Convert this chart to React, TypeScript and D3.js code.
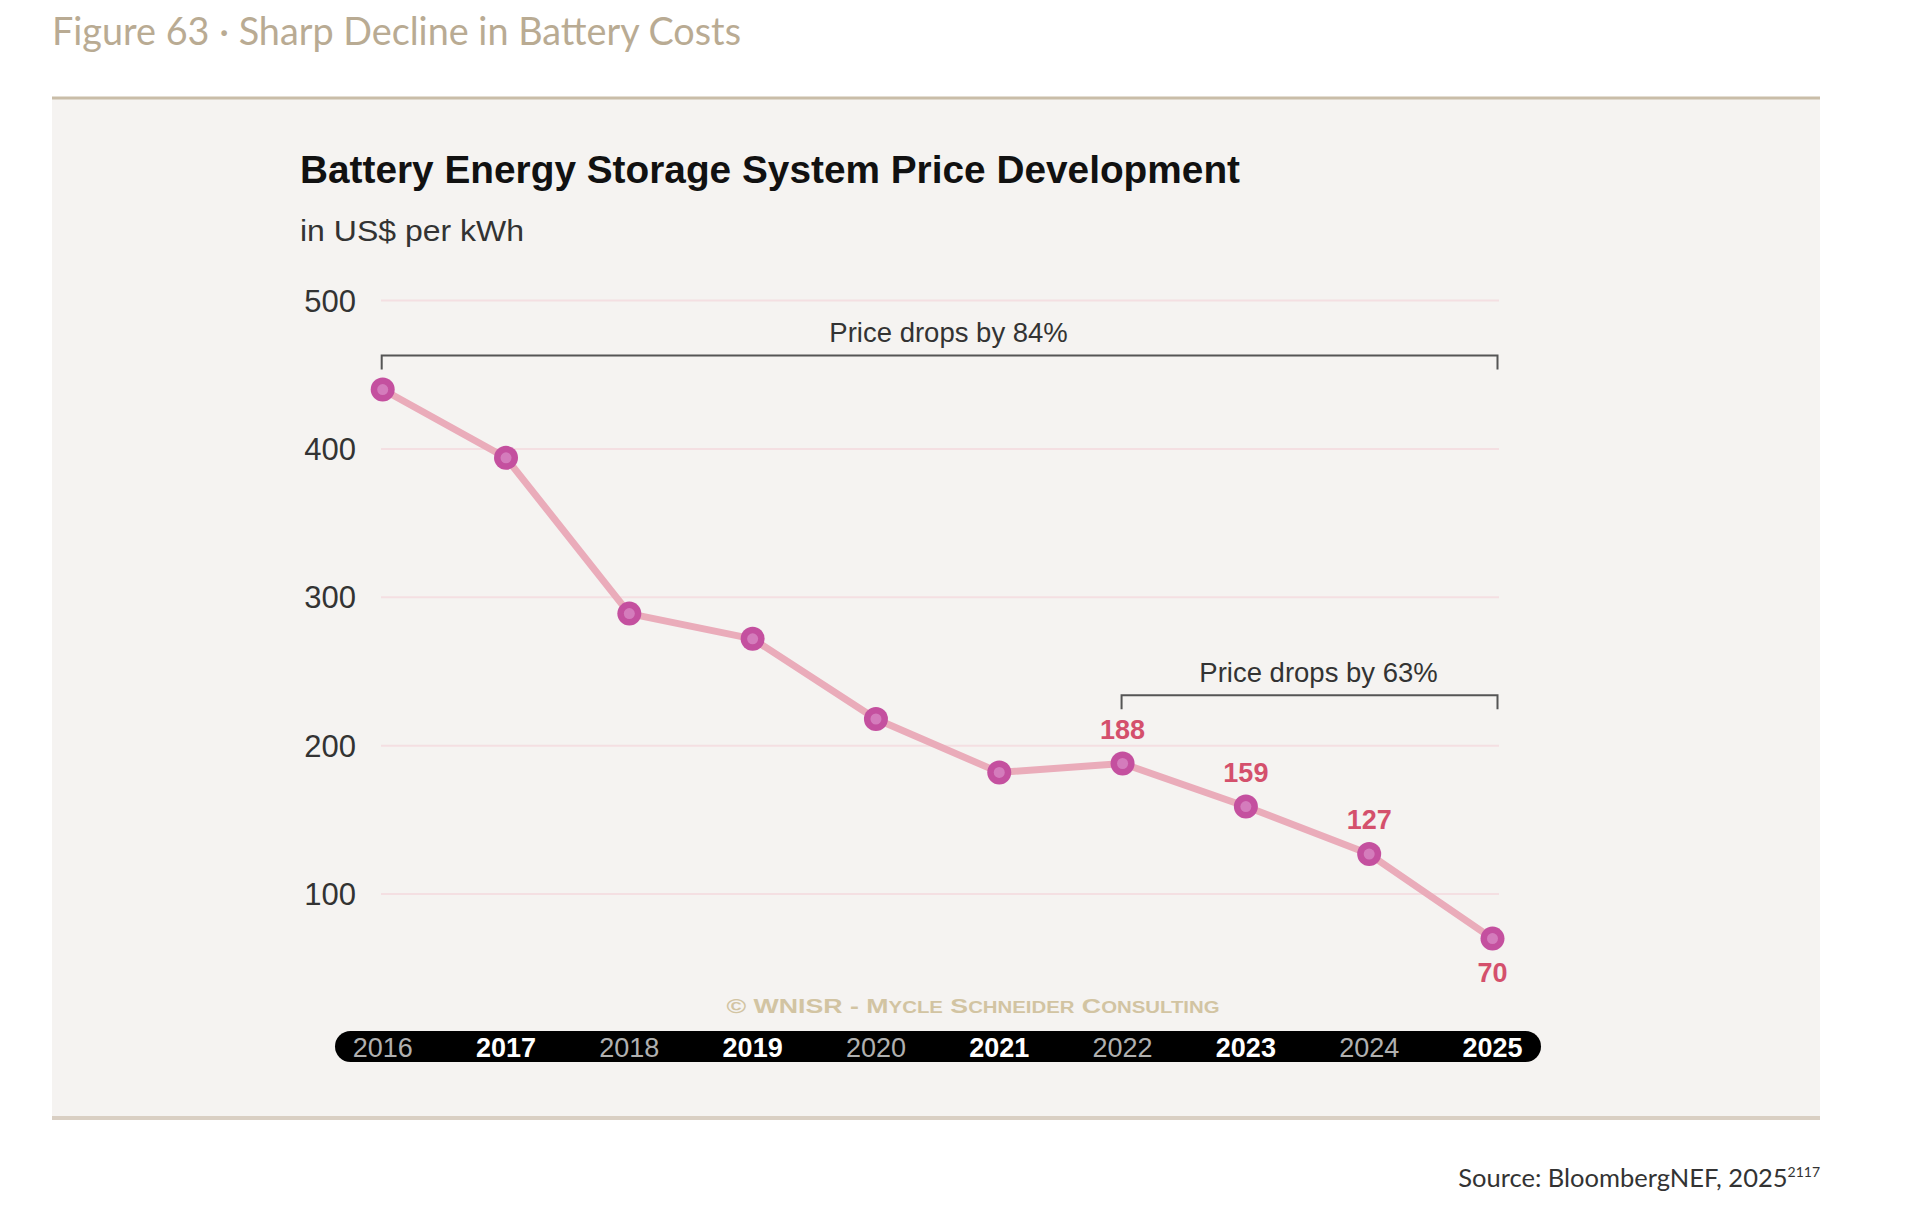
import React from "react";
import * as d3 from "d3";

const years = [2016, 2017, 2018, 2019, 2020, 2021, 2022, 2023, 2024, 2025];
const prices = [440, 394, 289, 272, 218, 182, 188, 159, 127, 70];
const yTicks = [100, 200, 300, 400, 500];
const labeledYears = [2022, 2023, 2024, 2025];
const brackets = [
  { from: 2016, to: 2025, value: 463, text: "Price drops by 84%" },
  { from: 2022, to: 2025, value: 234, text: "Price drops by 63%" },
];

const W = 1920;
const H = 1211;

export default function App() {
  const x = d3.scaleLinear().domain([2016, 2025]).range([382.7, 1492.5]);
  const y = d3.scaleLinear().domain([0, 500]).range([1042.5, 300.5]);
  const line = d3
    .line<number>()
    .x((_, i) => x(years[i]))
    .y((d) => y(d));

  const sans = "'Liberation Sans', Arial, sans-serif";
  const hum = "Lato, 'Open Sans', sans-serif";

  return (
    <div style={{ position: "absolute", left: 0, top: 0 }}>
      <style>{`body{margin:0;background:#fff}`}</style>
      <svg width={W} height={H} viewBox={`0 0 ${W} ${H}`} style={{ display: "block" }}>
        <rect x={0} y={0} width={W} height={H} fill="#ffffff" />
        <text
          x={52}
          y={45}
          fontFamily={hum}
          fontSize={38}
          fill="#b9ab93"
          textLength={689}
          lengthAdjust="spacingAndGlyphs"
        >
          Figure 63 · Sharp Decline in Battery Costs
        </text>
        {/* panel */}
        <rect x={52} y={98} width={1768} height={1020} fill="#f5f3f1" />
        <line x1={52} x2={1820} y1={98} y2={98} stroke="#c9bda8" strokeWidth={3} />
        <line x1={52} x2={1820} y1={1118} y2={1118} stroke="#d9cfc3" strokeWidth={4} />

        <text
          x={300}
          y={183}
          fontFamily={sans}
          fontWeight={700}
          fontSize={38}
          fill="#111"
          textLength={940}
          lengthAdjust="spacingAndGlyphs"
        >
          Battery Energy Storage System Price Development
        </text>
        <text
          x={300}
          y={241}
          fontFamily={sans}
          fontSize={29}
          fill="#333"
          textLength={224}
          lengthAdjust="spacingAndGlyphs"
        >
          in US$ per kWh
        </text>

        {/* grid */}
        {yTicks.map((t) => (
          <g key={t}>
            <line x1={381} x2={1499} y1={y(t)} y2={y(t)} stroke="#f4dfe2" strokeWidth={2} />
            <text
              x={356}
              y={y(t)}
              dy="0.36em"
              textAnchor="end"
              fontFamily={sans}
              fontSize={31}
              fill="#333"
            >
              {t}
            </text>
          </g>
        ))}

        {/* brackets */}
        {brackets.map((b) => {
          const yy = y(b.value);
          const x1 = x(b.from) - 1;
          const x2 = x(b.to) + 5;
          return (
            <g key={b.text}>
              <path
                d={`M${x1},${yy + 14}V${yy}H${x2}V${yy + 14}`}
                fill="none"
                stroke="#555"
                strokeWidth={2}
              />
              <text
                x={(x1 + x2) / 2 + 9}
                y={yy - 13}
                textAnchor="middle"
                fontFamily={sans}
                fontSize={27.5}
                fill="#333"
              >
                {b.text}
              </text>
            </g>
          );
        })}

        {/* line */}
        <path
          d={line(prices) || ""}
          fill="none"
          stroke="#eaacba"
          strokeWidth={7}
          strokeLinejoin="round"
        />
        {prices.map((p, i) => (
          <g key={years[i]}>
            <circle cx={x(years[i])} cy={y(p)} r={12} fill="#c4509f" />
            <circle cx={x(years[i])} cy={y(p)} r={5.5} fill="#d887c3" opacity={0.8} />
          </g>
        ))}
        {prices.map((p, i) =>
          labeledYears.includes(years[i]) ? (
            <text
              key={"l" + years[i]}
              x={x(years[i])}
              y={years[i] === 2025 ? y(p) + 43 : y(p) - 25}
              textAnchor="middle"
              fontFamily={sans}
              fontWeight={700}
              fontSize={27}
              fill="#d4506c"
            >
              {p}
            </text>
          ) : null
        )}

        {/* watermark */}
        <text
          x={973}
          y={1013}
          textAnchor="middle"
          fontFamily={sans}
          fontSize={21}
          fontWeight={700}
          fill="#d2c4a2"
          textLength={493}
          lengthAdjust="spacingAndGlyphs"
        >
          © WNISR - M<tspan fontSize={16}>YCLE</tspan> S<tspan fontSize={16}>CHNEIDER</tspan> C
          <tspan fontSize={16}>ONSULTING</tspan>
        </text>

        {/* year bar */}
        <rect x={335} y={1031} width={1206} height={31} rx={15.5} fill="#000" />
        {years.map((yr, i) => (
          <text
            key={"y" + yr}
            x={x(yr)}
            y={1057}
            textAnchor="middle"
            fontFamily={sans}
            fontSize={27}
            fontWeight={i % 2 === 1 ? 700 : 400}
            fill={i % 2 === 1 ? "#ffffff" : "#b0b0b0"}
          >
            {yr}
          </text>
        ))}

        <text x={1820} y={1187} textAnchor="end" fontFamily={hum} fontSize={25.5} fill="#333">
          Source: BloombergNEF, 2025
          <tspan fontSize={14} dy={-10}>
            2117
          </tspan>
        </text>
      </svg>
    </div>
  );
}
